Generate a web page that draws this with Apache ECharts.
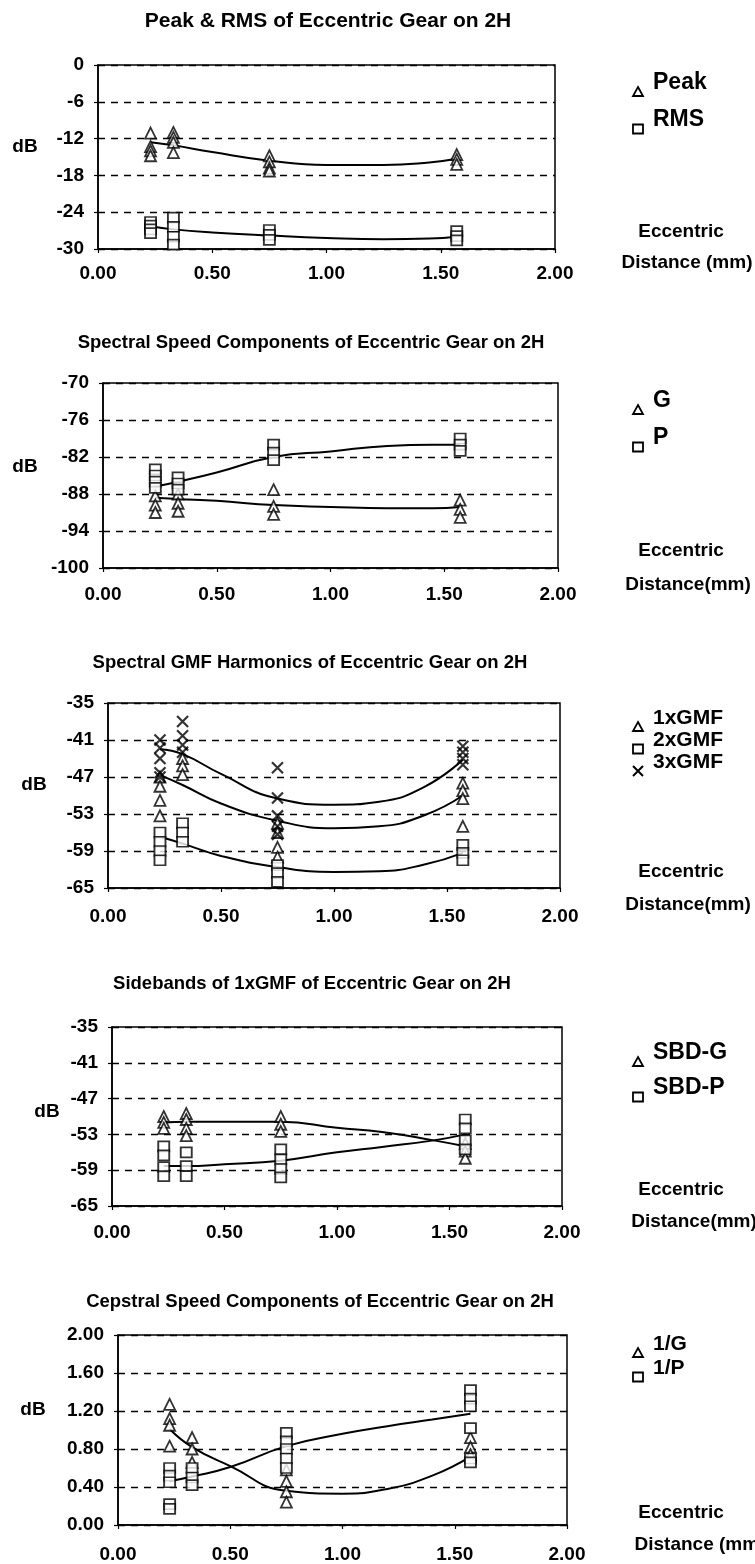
<!DOCTYPE html>
<html><head><meta charset="utf-8">
<script src="https://cdn.jsdelivr.net/npm/echarts@6/dist/echarts.min.js"></script>
<style>html,body{margin:0;padding:0;background:#fff}#c{width:755px;height:1564px}</style>
</head><body><div id="c"></div>
<script>
// ---------- DATA ----------
const ecc = [0.23, 0.33, 0.75, 1.57];            // eccentric distance (mm)
const xTicks = [0, 0.5, 1.0, 1.5, 2.0];

// Panel 1: Peak & RMS
const peakVals = [[-11.1, -13.3, -14.0, -14.8], [-11.0, -11.8, -12.6, -14.3], [-14.8, -15.8, -16.8, -17.3], [-14.6, -15.4, -16.2]];
const rmsVals  = [[-25.6, -26.2, -26.8, -27.4], [-24.9, -26.4, -28.0, -29.3], [-26.9, -27.7, -28.5], [-27.1, -27.9, -28.6]];
const trendX1 = [0.23, 0.33, 0.5, 0.75, 1.0, 1.25, 1.45, 1.57];
const peakTrend = [-12.6, -13.1, -14.2, -15.6, -16.3, -16.3, -15.9, -15.3];
const rmsTrend  = [-26.3, -26.8, -27.3, -27.8, -28.2, -28.4, -28.3, -28.0];

// Panel 2: Spectral speed components
const gVals = [[-88.3, -89.8, -91.0], [-88.0, -89.5, -90.8], [-87.3, -90.0, -91.3], [-89.0, -90.5, -91.8]];
const pVals = [[-84.0, -85.0, -86.0, -87.0], [-85.3, -86.3, -87.3], [-80.0, -81.3, -82.5], [-79.0, -80.0, -81.0]];
const trendX2 = [0.23, 0.33, 0.5, 0.75, 1.0, 1.25, 1.45, 1.57];
const gTrend = [-88.6, -88.8, -89.1, -89.8, -90.1, -90.3, -90.3, -90.1];
const pTrend = [-86.8, -86.0, -84.5, -82.0, -81.1, -80.2, -80.0, -80.0];

// Panel 3: GMF harmonics
const gmf1Vals = [[-47.0, -48.5, -50.8, -53.3], [-44.0, -45.2, -46.6], [-54.5, -56.0, -58.4, -60.0], [-48.0, -49.2, -50.5, -55.0]];
const gmf2Vals = [[-56.0, -57.5, -59.0, -60.5], [-54.5, -56.0, -57.5], [-61.3, -62.6, -64.0], [-58.0, -59.3, -60.5]];
const gmf3Vals = [[-41.0, -42.3, -44.0, -46.3, -47.0], [-38.0, -40.3, -41.8, -43.0], [-45.5, -50.4, -53.3, -55.0, -56.3], [-42.0, -43.0, -44.0, -45.0]];
const trendX3 = [0.23, 0.33, 0.5, 0.75, 1.0, 1.2, 1.4, 1.57];
const gmf1Trend = [-46.7, -48.3, -51.3, -54.1, -55.3, -55.0, -53.2, -50.0];
const gmf2Trend = [-56.7, -57.8, -59.8, -61.6, -62.4, -62.3, -61.2, -59.3];
const gmf3Trend = [-42.5, -43.3, -46.5, -50.5, -51.5, -51.0, -48.6, -44.2];

// Panel 4: Sidebands
const sbgVals = [[-50.0, -51.0, -52.0], [-49.5, -50.5, -52.0, -53.2], [-50.0, -51.3, -52.5], [-54.5, -55.8, -57.0]];
const sbpVals = [[-55.0, -56.5, -58.5, -60.0], [-56.0, -58.3, -60.0], [-55.5, -57.2, -58.8, -60.2], [-50.5, -52.0, -54.0, -55.5]];
const trendX4 = [0.23, 0.33, 0.5, 0.75, 1.0, 1.2, 1.43, 1.57];
const sbgTrend = [-51.0, -50.9, -50.9, -50.9, -51.9, -52.6, -54.0, -55.0];
const sbpTrend = [-58.3, -58.3, -58.0, -57.4, -56.0, -55.1, -54.0, -53.0];

// Panel 5: Cepstral speed components
const invGVals = [[1.27, 1.12, 1.05, 0.83], [0.92, 0.80, 0.66], [0.58, 0.46, 0.35, 0.24], [0.92, 0.82, 0.74]];
const invPVals = [[0.60, 0.52, 0.45, 0.22, 0.17], [0.60, 0.50, 0.42], [0.97, 0.88, 0.80, 0.70, 0.60], [1.42, 1.33, 1.25, 1.02, 0.70, 0.66]];
const trendX5 = [0.23, 0.33, 0.5, 0.75, 1.0, 1.2, 1.4, 1.57];
const invGTrend = [1.01, 0.82, 0.62, 0.36, 0.33, 0.38, 0.52, 0.72];
const invPTrend = [0.46, 0.51, 0.61, 0.83, 0.96, 1.04, 1.11, 1.17];

const titles = [
  'Peak & RMS of Eccentric Gear on 2H',
  'Spectral Speed Components of Eccentric Gear on 2H',
  'Spectral GMF Harmonics of Eccentric Gear on 2H',
  'Sidebands of 1xGMF of Eccentric Gear on 2H',
  'Cepstral Speed Components of Eccentric Gear on 2H'
];
const yRanges = [[-30, 0, 6], [-100, -70, 6], [-65, -35, 6], [-65, -35, 6], [0, 2, 0.4]];
const legendNames = [['Peak', 'RMS'], ['G', 'P'], ['1xGMF', '2xGMF', '3xGMF'], ['SBD-G', 'SBD-P'], ['1/G', '1/P']];
const xNames = ['Distance (mm)', 'Distance(mm)', 'Distance(mm)', 'Distance(mm)', 'Distance (mm)'];

// ---------- LAYOUT ----------
const FONT = "'Liberation Sans', Arial, sans-serif";
const grids = [
  {left: 98, top: 65, width: 457, height: 184},
  {left: 103, top: 383, width: 455, height: 185},
  {left: 108, top: 703, width: 452, height: 185},
  {left: 112, top: 1027, width: 450, height: 179},
  {left: 118, top: 1335, width: 449, height: 192}
];
const xLabelMargin = [15, 17, 19, 17, 20];
const titlePos = [[328, 21, 21], [311, 343, 18.5], [310, 663, 18.5], [312, 984, 18.5], [320, 1302, 18.5]];
const dbPos = [[25, 147], [25, 467], [34, 785], [47, 1112], [33, 1410]];
const legendPos = [
  [[92, 83], [129, 120]],
  [[410, 401], [447, 438]],
  [[727, 718], [749, 740], [771, 762]],
  [[1062, 1053], [1097, 1088]],
  [[1353, 1344], [1377, 1368]]
];
const eccPos = [[681, 232, 687, 263], [681, 551, 688, 585], [681, 872, 688, 905], [681, 1190, 694, 1222], [681, 1513, 700, 1545]];

const TRI = {symbol: 'triangle', symbolSize: [11, 11], itemStyle: {color: '#fff', borderColor: '#000', borderWidth: 1.8}};
const SQ = {symbol: 'rect', symbolSize: [11, 10], itemStyle: {color: '#fff', borderColor: '#000', borderWidth: 1.8}};
const XM = {symbol: 'path://M0,0L10,10M10,0L0,10', symbolSize: [11, 11], itemStyle: {color: 'none', borderColor: '#000', borderWidth: 2.2}};

function pts(vals) {
  const out = [];
  vals.forEach((arr, i) => arr.forEach(v => out.push([ecc[i], v])));
  return out;
}
function trend(xs, ys) { return xs.map((x, i) => [x, ys[i]]); }

const panels = [
  {scat: [[peakVals, TRI], [rmsVals, SQ]], trends: [[trendX1, peakTrend], [trendX1, rmsTrend]]},
  {scat: [[gVals, TRI], [pVals, SQ]], trends: [[trendX2, gTrend], [trendX2, pTrend]]},
  {scat: [[gmf1Vals, TRI], [gmf2Vals, SQ], [gmf3Vals, XM]], trends: [[trendX3, gmf1Trend], [trendX3, gmf2Trend], [trendX3, gmf3Trend]]},
  {scat: [[sbgVals, TRI], [sbpVals, SQ]], trends: [[trendX4, sbgTrend], [trendX4, sbpTrend]]},
  {scat: [[invGVals, TRI], [invPVals, SQ]], trends: [[trendX5, invGTrend], [trendX5, invPTrend]]}
];
const markerOf = [[TRI, SQ], [TRI, SQ], [TRI, SQ, XM], [TRI, SQ], [TRI, SQ]];

const labelStyle = {color: '#000', fontSize: 19, fontWeight: 'bold', fontFamily: FONT};
const option = {
  backgroundColor: '#fff',
  animation: false,
  grid: grids.map(g => Object.assign({show: true, borderColor: '#000', borderWidth: 1.5, backgroundColor: 'transparent'}, g)),
  xAxis: grids.map((g, i) => ({
    gridIndex: i, type: 'value', min: xTicks[0], max: xTicks[xTicks.length - 1], interval: xTicks[1] - xTicks[0],
    axisLine: {show: true, onZero: false, lineStyle: {color: '#000', width: 1.5}},
    axisTick: {show: true, length: 4, lineStyle: {color: '#000', width: 1.2}},
    splitLine: {show: false},
    axisLabel: Object.assign({formatter: v => v.toFixed(2), margin: xLabelMargin[i]}, labelStyle)
  })),
  yAxis: yRanges.map((r, i) => ({
    gridIndex: i, type: 'value', min: r[0], max: r[1], interval: r[2],
    axisLine: {show: true, onZero: false, lineStyle: {color: '#000', width: 1.5}},
    axisTick: {show: true, length: 4, lineStyle: {color: '#000', width: 1.2}},
    splitLine: {show: true, lineStyle: {type: [7, 6], color: '#000', width: 1.3}},
    axisLabel: Object.assign({formatter: v => (i === 4 ? v.toFixed(2) : String(Math.round(v))), margin: 14}, labelStyle)
  })),
  series: [],
  graphic: []
};

panels.forEach((p, i) => {
  p.trends.forEach(t => {
    option.series.push({
      type: 'line', xAxisIndex: i, yAxisIndex: i, data: trend(t[0], t[1]),
      smooth: 0.5, symbol: 'none', lineStyle: {color: '#000', width: 2}, z: 2, silent: true
    });
  });
  p.scat.forEach((s, k) => {
    option.series.push(Object.assign({
      type: 'scatter', name: legendNames[i][k], xAxisIndex: i, yAxisIndex: i, data: pts(s[0]), z: 3
    }, JSON.parse(JSON.stringify(s[1]))));
  });
});

function marker(kind, cx, cy) {
  const st = {fill: '#fff', stroke: '#000', lineWidth: 1.8};
  if (kind === TRI) return {type: 'polygon', shape: {points: [[cx, cy - 5], [cx + 5, cy + 4], [cx - 5, cy + 4]]}, style: st};
  if (kind === SQ) return {type: 'rect', shape: {x: cx - 5, y: cy - 4.5, width: 10, height: 9}, style: st};
  return {type: 'polyline', shape: {points: [[cx - 5, cy - 5], [cx + 5, cy + 5], [cx, cy], [cx + 5, cy - 5], [cx - 5, cy + 5]]}, style: {fill: null, stroke: '#000', lineWidth: 2}};
}
function txt(text, x, y, size, align) {
  return {type: 'text', x: x, y: y, style: {text: text, fill: '#000', font: 'bold ' + size + 'px ' + FONT, align: align || 'center', verticalAlign: 'middle'}};
}

titles.forEach((t, i) => {
  option.graphic.push(txt(t, titlePos[i][0], titlePos[i][1], titlePos[i][2]));
  option.graphic.push(txt('dB', dbPos[i][0], dbPos[i][1], 19));
  legendNames[i].forEach((n, k) => {
    option.graphic.push(marker(markerOf[i][k], 638, legendPos[i][k][0]));
    option.graphic.push(txt(n, 653, legendPos[i][k][1], i === 2 || i === 4 ? 21 : 23, 'left'));
  });
  option.graphic.push(txt('Eccentric', eccPos[i][0], eccPos[i][1], 19));
  option.graphic.push(txt(xNames[i], eccPos[i][2], eccPos[i][3], 19));
});

const chart = echarts.init(document.getElementById('c'), null, {renderer: 'canvas'});
chart.setOption(option);
</script></body></html>
